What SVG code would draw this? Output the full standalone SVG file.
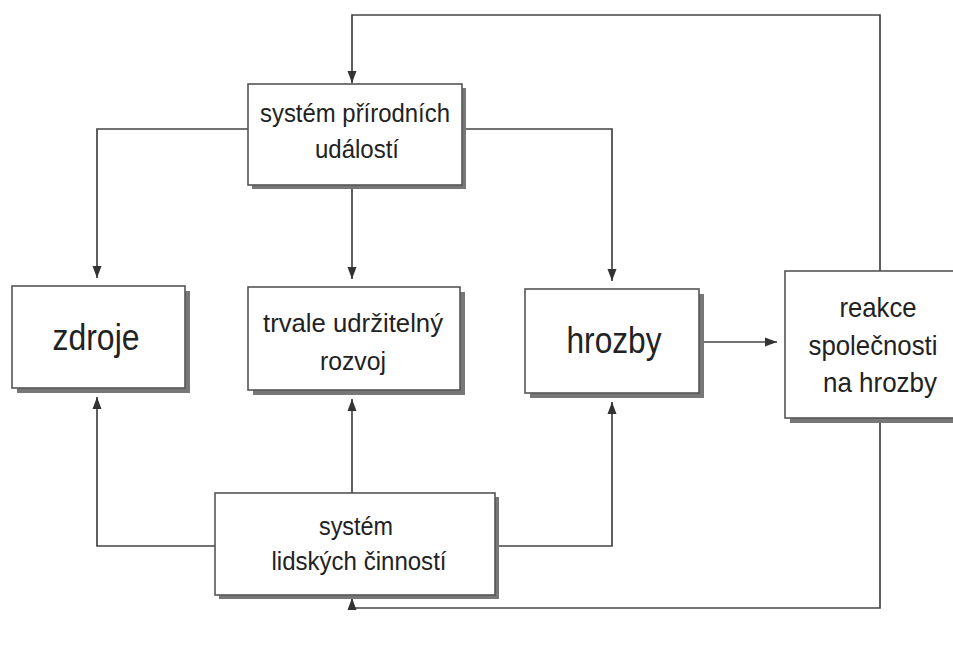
<svg xmlns="http://www.w3.org/2000/svg" width="953" height="669" viewBox="0 0 953 669">
<style>
.box{fill:#fff;stroke:#555;stroke-width:1.6}
.sh{fill:#777}
.t{font-family:"Liberation Sans",Arial,sans-serif;fill:#222;text-anchor:middle}
.s{font-size:25px}
.b{font-size:37px}
.m{font-size:28px}
.c{fill:none;stroke:#444;stroke-width:1.7}
</style>
<defs>
<marker id="ah" viewBox="0 0 12 10" refX="12" refY="5" markerWidth="12" markerHeight="10" markerUnits="userSpaceOnUse" orient="auto">
<path d="M0,0.5 L12,5 L0,9.5 z" fill="#333"/>
</marker>
</defs>
<rect width="953" height="669" fill="#fff"/>
<g id="connectors">
<path class="c" d="M248,129 H97 V278" marker-end="url(#ah)"/>
<path class="c" d="M352,186 V279" marker-end="url(#ah)"/>
<path class="c" d="M462,129 H612 V281" marker-end="url(#ah)"/>
<path class="c" d="M215,546 H97 V397" marker-end="url(#ah)"/>
<path class="c" d="M352,493 V399" marker-end="url(#ah)"/>
<path class="c" d="M495,546 H612 V402" marker-end="url(#ah)"/>
<path class="c" d="M699,342 H777" marker-end="url(#ah)"/>
<path class="c" d="M880,271 V15 H352 V83" marker-end="url(#ah)"/>
<path class="c" d="M880,418 V608 H352 V598" marker-end="url(#ah)"/>
</g>
<g id="n-prirodni">
<rect class="sh" x="252" y="88" width="214" height="101"/>
<rect class="box" x="248" y="84" width="214" height="101"/>
<text class="t s" x="355" y="122" textLength="190" lengthAdjust="spacingAndGlyphs">systém přírodních</text>
<text class="t s" x="357" y="158" textLength="84" lengthAdjust="spacingAndGlyphs">událostí</text>
</g>
<g id="n-zdroje">
<rect class="sh" x="17" y="291" width="173" height="102"/>
<rect class="box" x="12" y="286" width="173" height="102"/>
<text class="t b" x="96" y="350" textLength="87" lengthAdjust="spacingAndGlyphs">zdroje</text>
</g>
<g id="n-rozvoj">
<rect class="sh" x="253" y="292" width="212" height="103"/>
<rect class="box" x="248" y="287" width="212" height="103"/>
<text class="t s" x="353" y="332" textLength="180" lengthAdjust="spacingAndGlyphs">trvale udržitelný</text>
<text class="t s" x="353" y="370" textLength="66" lengthAdjust="spacingAndGlyphs">rozvoj</text>
</g>
<g id="n-hrozby">
<rect class="sh" x="530" y="294" width="174" height="104"/>
<rect class="box" x="525" y="289" width="174" height="104"/>
<text class="t b" x="614" y="353" textLength="95" lengthAdjust="spacingAndGlyphs">hrozby</text>
</g>
<g id="n-reakce">
<rect class="sh" x="790" y="276" width="170" height="147"/>
<rect class="box" x="785" y="271" width="175" height="147"/>
<text class="t m" x="878" y="317" textLength="77" lengthAdjust="spacingAndGlyphs">reakce</text>
<text class="t m" x="873" y="355" textLength="129" lengthAdjust="spacingAndGlyphs">společnosti</text>
<text class="t m" x="880" y="392" textLength="114" lengthAdjust="spacingAndGlyphs">na hrozby</text>
</g>
<g id="n-lidske">
<rect class="sh" x="219" y="497" width="280" height="102"/>
<rect class="box" x="215" y="493" width="280" height="102"/>
<text class="t s" x="356" y="535" textLength="74" lengthAdjust="spacingAndGlyphs">systém</text>
<text class="t s" x="359" y="570" textLength="175" lengthAdjust="spacingAndGlyphs">lidských činností</text>
</g>
</svg>
